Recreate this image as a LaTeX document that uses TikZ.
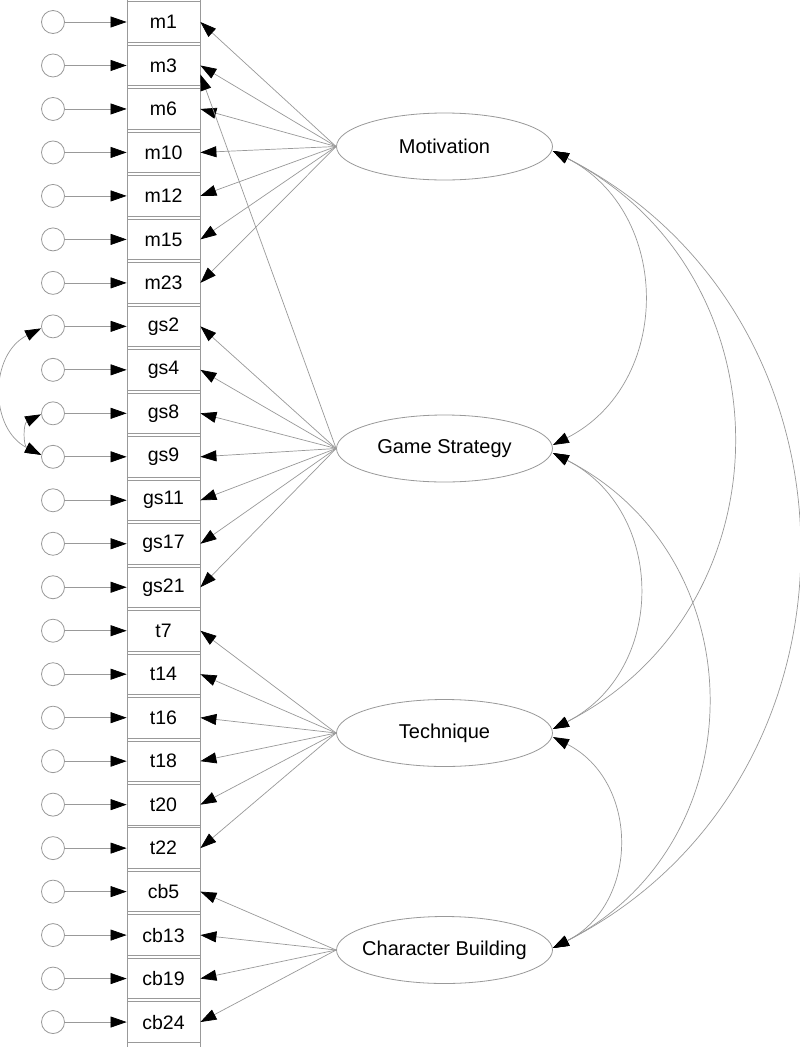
\documentclass[tikz,border=0pt]{standalone}
\usepackage{fontspec}
\setmainfont{Liberation Sans}
\usetikzlibrary{arrows.meta,shapes.geometric}
\definecolor{ln}{gray}{0.6}
\newcommand{\latlabel}[1]{\makebox[0pt]{#1}}
\begin{document}
\begin{tikzpicture}[x=1pt,y=-1pt,
  obs/.style={rectangle,draw=ln,line width=0.8pt,minimum width=73pt,minimum height=40.5pt,inner sep=0pt,font=\fontsize{19.5}{20}\selectfont},
  err/.style={circle,draw=ln,line width=0.8pt,minimum size=23pt,inner sep=0pt},
  lat/.style={ellipse,draw=ln,line width=0.8pt,minimum width=216pt,minimum height=67pt,inner sep=0pt,font=\fontsize{20}{22}\selectfont},
  arr/.style={draw=ln,line width=0.7pt,-{Triangle[length=16pt,width=11pt,color=black]}},
  cov/.style={draw=ln,line width=0.7pt,{Triangle[length=16pt,width=11pt,color=black]}-{Triangle[length=16pt,width=11pt,color=black]}},
  col/.style={draw=ln,line width=0.8pt}
]
\useasboundingbox (0,0) rectangle (800,1047);
\fill[white] (0,0) rectangle (800,1047);

% observed variables and error terms
\foreach \n [count=\i from 0] in {m1,m3,m6,m10,m12,m15,m23,gs2,gs4,gs8,gs9,gs11,gs17,gs21,t7,t14,t16,t18,t20,t22,cb5,cb13,cb19,cb24} {
  \node[obs] (\n) at (163.5,{22+43.48*\i}) {\n};
  \node[err] (e\n) at (53,{22+43.48*\i}) {};
  \draw[arr] (e\n) -- (\n);
}
% continuous column edges
\draw[col] (127,0) -- (127,1047);
\draw[col] (200,0) -- (200,1047);

% latent variables
\node[lat] (mot) at (444.5,146.5) {\latlabel{Motivation}};
\node[lat] (gs) at (444.5,448.5) {\latlabel{Game Strategy}};
\node[lat] (tech) at (444.5,733) {\latlabel{Technique}};
\node[lat] (cb) at (444.5,950) {\latlabel{Character Building}};

% loadings
\foreach \n in {m1,m3,m6,m10,m12,m15,m23} \draw[arr] (mot.west) -- (\n.east);
\foreach \n in {gs2,gs4,gs8,gs9,gs11,gs17,gs21} \draw[arr] (gs.west) -- (\n.east);
\draw[arr] (gs.west) -- ([yshift=-9pt]m3.east);
\foreach \n in {t7,t14,t16,t18,t20,t22} \draw[arr] (tech.west) -- (\n.east);
\foreach \n in {cb5,cb13,cb19,cb24} \draw[arr] (cb.west) -- (\n.east);

% factor covariances
\draw[cov] ([yshift=-4.5pt]mot.east) .. controls +(120,61) and +(120,-61) .. ([yshift=3.5pt]gs.east);
\draw[cov] ([yshift=-4.5pt]mot.east) .. controls +(239,122) and +(239,-122) .. ([yshift=4pt]tech.east);
\draw[cov] ([yshift=-4.5pt]mot.east) .. controls +(326,166) and +(326,-166) .. ([yshift=2pt]cb.east);
\draw[cov] ([yshift=-4.5pt]gs.east) .. controls +(114,58) and +(114,-58) .. ([yshift=4pt]tech.east);
\draw[cov] ([yshift=-4.5pt]gs.east) .. controls +(205,105) and +(205,-105) .. ([yshift=2pt]cb.east);
\draw[cov] ([yshift=-4pt]tech.east) .. controls +(87,44) and +(87,-44) .. ([yshift=2pt]cb.east);

% error covariances
\draw[cov] ([yshift=-2pt]egs2.west) .. controls +(-52,26) and +(-52,-26) .. ([yshift=2pt]egs9.west);
\draw[cov] ([yshift=-1pt]egs8.west) .. controls +(-18,9) and +(-18,-9) .. ([yshift=2pt]egs9.west);
\end{tikzpicture}
\end{document}
